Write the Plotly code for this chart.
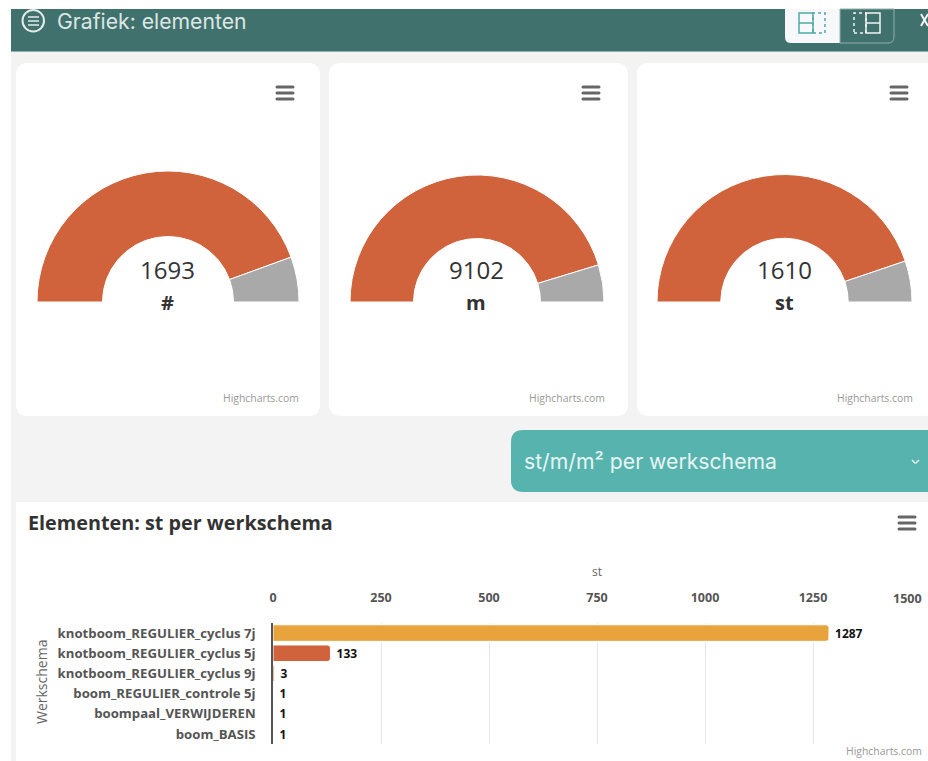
import plotly.graph_objects as go

W, H = 928, 761

# data
gauge_values = [1693, 9102, 1610]
gauge_rest = [212, 949, 187]
gauge_units = ["#", "m", "st"]
categories = ["knotboom_REGULIER_cyclus 7j", "knotboom_REGULIER_cyclus 5j",
              "knotboom_REGULIER_cyclus 9j", "boom_REGULIER_controle 5j",
              "boompaal_VERWIJDEREN", "boom_BASIS"]
bar_values = [1287, 133, 3, 1, 1, 1]
bar_colors = ["#E8A33D", "#D0623C", "#D0623C", "#D0623C", "#D0623C", "#D0623C"]
tick_values = [0, 250, 500, 750, 1000, 1250, 1500]
tick_labels = ["0", "250", "500", "750", "1000", "1250", ""]
last_tick_label = "1500"

FONT = "Open Sans"
UI_FONT = "Inter"


def px(x):
    return x / W


def py(y):
    return 1 - y / H


def rrect(x0, y0, x1, y1, r, fill, line=None, corners=(1, 1, 1, 1)):
    tl, tr, br, bl = [r * c for c in corners]
    path = (f"M{px(x0 + tl)},{py(y0)} L{px(x1 - tr)},{py(y0)} "
            f"Q{px(x1)},{py(y0)} {px(x1)},{py(y0 + tr)} L{px(x1)},{py(y1 - br)} "
            f"Q{px(x1)},{py(y1)} {px(x1 - br)},{py(y1)} L{px(x0 + bl)},{py(y1)} "
            f"Q{px(x0)},{py(y1)} {px(x0)},{py(y1 - bl)} L{px(x0)},{py(y0 + tl)} "
            f"Q{px(x0)},{py(y0)} {px(x0 + tl)},{py(y0)} Z")
    return dict(type="path", xref="paper", yref="paper", path=path, fillcolor=fill,
                line=dict(color=line or fill, width=1 if line else 0), layer="below")


def burger(cx, cy):
    return [rrect(cx - 9.5, cy + d - 1.5, cx + 9.5, cy + d + 1.5, 1.5, "#666666")
            for d in (-6, 0, 6)]


def box(x0, y0, x1, y1, fill):
    return dict(type="rect", xref="paper", yref="paper", x0=px(x0), x1=px(x1),
                y0=py(y1), y1=py(y0), fillcolor=fill, line=dict(width=0), layer="below")


def outline(x0, y0, x1, y1, color, dash="solid"):
    return dict(type="rect", xref="paper", yref="paper", x0=px(x0), x1=px(x1),
                y0=py(y1), y1=py(y0), line=dict(color=color, width=1.5, dash=dash),
                layer="below")


def seg(x0, y0, x1, y1, color, width=1.5):
    return dict(type="line", xref="paper", yref="paper", x0=px(x0), x1=px(x1),
                y0=py(y0), y1=py(y1), line=dict(color=color, width=width), layer="above")


def label(x, y, text, size, color, bold=False, family=FONT, anchor="center", angle=0):
    return dict(xref="paper", yref="paper", x=px(x), y=py(y), text=f"<b>{text}</b>" if bold else text,
                showarrow=False, xanchor=anchor, yanchor="middle", textangle=angle,
                font=dict(family=family, size=size, color=color))


fig = go.Figure()

# gauges
centers = [(168, 302, 131), (477, 302, 127), (784.5, 302, 127.5)]
for (cx, cy, r), v, rest in zip(centers, gauge_values, gauge_rest):
    fig.add_trace(go.Pie(
        values=[v, rest, v + rest], sort=False, direction="clockwise", rotation=270,
        hole=0.5, textinfo="none", hoverinfo="skip", showlegend=False,
        marker=dict(colors=["#D0623C", "#A9A9A9", "rgba(0,0,0,0)"],
                    line=dict(color=["#FFFFFF", "#FFFFFF", "rgba(0,0,0,0)"], width=1)),
        domain=dict(x=[px(cx - r), px(cx + r)], y=[py(cy + r), py(cy - r)]),
    ))

# bars
fig.add_trace(go.Bar(
    y=categories, x=bar_values, orientation="h", width=0.82,
    marker=dict(color=bar_colors, cornerradius=3, line=dict(width=1, color="#FFFFFF")),
    text=[f"<b>\u00a0{v}</b>" for v in bar_values], textposition="outside", cliponaxis=False,
    textfont=dict(family=FONT, size=13, color="#111111"), hoverinfo="skip", showlegend=False,
))

shapes = [
    box(11, 9, W, 51, "#41716C"),
    box(11, 51, W, 52, "#8FB0AC"),
    box(11, 52, W, 761, "#F3F3F3"),
    rrect(16, 63, 320, 416, 12, "#FFFFFF"),
    rrect(329, 63, 628, 416, 12, "#FFFFFF"),
    rrect(637, 63, 940, 416, 12, "#FFFFFF"),
    rrect(511, 430, 945, 492, 12, "#57B3AE"),
    box(16, 502, W, 761, "#FFFFFF"),
    # toggle buttons
    rrect(785, 9, 840, 43, 6, "#F6F8FA", corners=(0, 0, 0, 1)),
    rrect(840, 9, 894, 43, 6, "rgba(0,0,0,0)", line="#8FB0AC", corners=(0, 0, 1, 0)),
    outline(799, 13, 813, 33, "#4FA9A6"),
    outline(813, 13, 825, 33, "#4FA9A6", "dot"),
    seg(799, 23, 813, 23, "#4FA9A6"),
    outline(854, 13, 866, 33, "#F1F5F4", "dot"),
    outline(866, 13, 880, 33, "#F1F5F4"),
    seg(866, 23, 880, 23, "#F1F5F4"),
    # header icon
    dict(type="circle", xref="paper", yref="paper", x0=px(22.5), x1=px(44), y0=py(31.5), y1=py(10),
         line=dict(color="#E4ECEA", width=2), layer="above"),
    seg(28, 17, 39, 17, "#E4ECEA"), seg(28, 21, 39, 21, "#E4ECEA"), seg(28, 25, 39, 25, "#E4ECEA"),
    # close cross
    seg(921, 14, 928, 26, "#F1F5F4", 2), seg(921, 26, 928, 14, "#F1F5F4", 2),
    # dropdown chevron
    seg(912, 460, 915.5, 463.5, "#E8F5F4"), seg(915.5, 463.5, 919, 460, "#E8F5F4"),
]
for cx, cy in [(285, 93), (591, 93), (899, 93), (907, 523)]:
    shapes += burger(cx, cy)

annotations = [
    label(55, 21, "Grafiek: elementen", 21.2, "#DCE7E5", family=UI_FONT, anchor="left"),
    label(522, 461, "st/m/m² per werkschema", 21.2, "#E8F5F4", family=UI_FONT, anchor="left"),
    label(26, 522, "Elementen: st per werkschema", 19.8, "#333333", bold=True, anchor="left"),
    label(597, 571.5, "st", 12, "#666666"),
    label(41, 682, "Werkschema", 14, "#666666", angle=-90),
    label(301, 398, "Highcharts.com", 10.4, "#999999", anchor="right"),
    label(607, 398, "Highcharts.com", 10.4, "#999999", anchor="right"),
    label(915, 398, "Highcharts.com", 10.4, "#999999", anchor="right"),
    label(924, 751, "Highcharts.com", 10.4, "#999999", anchor="right"),
]
for (cx, _, _), v, u in zip(centers, gauge_values, gauge_units):
    annotations.append(label(cx - 0.5, 270, str(v), 24, "#333333"))
    annotations.append(label(cx - 0.5, 302, u, 20, "#333333", bold=True))
annotations.append(dict(xref="x", yref="paper", x=tick_values[-1], xshift=3, y=py(598), text=f"<b>{last_tick_label}</b>",
                        showarrow=False, xanchor="right", yanchor="middle",
                        font=dict(family=FONT, size=12.5, color="#555555")))

fig.update_layout(
    width=W, height=H, autosize=False, margin=dict(l=0, r=0, t=0, b=0, pad=0, autoexpand=False),
    paper_bgcolor="#FFFFFF", plot_bgcolor="rgba(0,0,0,0)", showlegend=False,
    shapes=shapes, annotations=annotations,
    xaxis=dict(domain=[px(273), px(921)], range=[0, 1500], side="top",
               anchor="y", tickmode="array", tickvals=tick_values,
               ticktext=[f"<b>{t}</b>" if t else "" for t in tick_labels],
               ticks="", showline=False, zeroline=False,
               gridcolor="#E6E6E6", gridwidth=1, ticklabelstandoff=18,
               tickfont=dict(family=FONT, size=12.5, color="#555555")),
    yaxis=dict(domain=[py(744), py(623)], autorange="reversed", anchor="x",
               showline=True, linecolor="#555555", linewidth=1.5, showgrid=False, zeroline=False,
               ticks="", ticklabelstandoff=13, tickmode="array", tickvals=categories,
               ticktext=[f"<b>{c}</b>" for c in categories],
               tickfont=dict(family=FONT, size=13.2, color="#555555")),
)

fig.write_html("out.html", config=dict(displayModeBar=False),
               post_script="document.body.style.margin='0';document.body.style.overflow='hidden';")
